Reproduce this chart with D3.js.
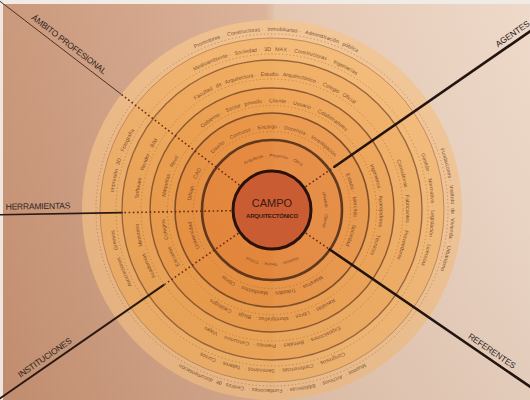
<!DOCTYPE html>
<html>
<head>
<meta charset="utf-8">
<script src="https://cdn.jsdelivr.net/npm/d3@7"></script>
<style>
  body { margin: 0; background: #d9ae93; }
  svg { display: block; }
</style>
</head>
<body>
<svg id="chart" width="530" height="400"></svg>
<script>
// --- data ---
const ejes = ["ÁMBITO PROFESIONAL", "AGENTES", "REFERENTES", "INSTITUCIONES", "HERRAMIENTAS"];
const angulosEje = [307.5, 55.3, 124.4, 235.3, 269]; // degrees, clockwise from 12 o'clock
const titulo = "CAMPO";
const subtitulo = "ARQUITECTÓNICO";

// one string per ring band, inner to outer
const textosSuperior = [
  "Arquitecto · Proyecto · Obra",
  "Diseño · Concurso · Encargo · Docencia · Investigación",
  "Gobierno · Sector privado · Cliente · Usuario · Colaboradores",
  "Facultad de Arquitectura · Estudio Arquitectónico · Colegio Oficial",
  "Medioambiente · Sociedad · 3D MAX · Constructoras · Ingenierías",
  "Promotores · Constructoras · Inmobiliarias · Administración pública"
];
const textosDerecha = [
  "Usuario · Cliente",
  "Estado · Mercado · Sociedad",
  "Ingenieros · Aparejadores · Técnicos",
  "Consultoras · Fabricantes · Proveedores",
  "Gestión · Normativa · Legislación · Licencias",
  "Fundaciones · Instituto de Vivienda · Urbanismo"
];
const textosInferior = [
  "Historia · Teoría · Crítica",
  "Maestros · Tratados · Manifiestos · Obras",
  "Revistas · Libros · Monografías · Blogs · Catálogos",
  "Exposiciones · Bienales · Premios · Concursos · Viajes",
  "Congresos · Conferencias · Seminarios · Talleres · Cursos",
  "Museos · Archivos · Bibliotecas · Fundaciones · Centros de documentación"
];
const textosIzqInf = ["", "Universidad", "Escuelas · Colegios", "Academias · Ministerio", "Asociaciones · Gremios", ""];
const textosIzqSup = ["", "Dibujo · CAD", "Maquetas · Revit", "Software · Render · BIM", "Impresión 3D · Fotografía", ""];

// --- layout ---
const width = 530, height = 400;
const cx = 272, cy = 210;
const svg = d3.select("#chart");

// ring index -> radius (center circle, then ring lines outward)
const radio = d3.scaleLinear().domain([0, 1, 2, 3, 4, 5, 6]).range([39, 70, 97, 122, 150, 172, 190]);
const rad = a => (a - 90) * Math.PI / 180;

const defs = svg.append("defs");

const bg = defs.append("linearGradient").attr("id", "bg");
bg.append("stop").attr("offset", 0).attr("stop-color", "#cd9d81");
bg.append("stop").attr("offset", 0.5).attr("stop-color", "#dab096");
bg.append("stop").attr("offset", 0.52).attr("stop-color", "#e2c2ab");
bg.append("stop").attr("offset", 1).attr("stop-color", "#ead3c2");

const luz = defs.append("linearGradient").attr("id", "luz");
luz.append("stop").attr("offset", 0).attr("stop-color", "#9a3c08").attr("stop-opacity", 0.1);
luz.append("stop").attr("offset", 0.5).attr("stop-color", "#9a3c08").attr("stop-opacity", 0.0);
luz.append("stop").attr("offset", 0.52).attr("stop-color", "#fff3e6").attr("stop-opacity", 0.04);
luz.append("stop").attr("offset", 1).attr("stop-color", "#fff3e6").attr("stop-opacity", 0.14);

const vert = defs.append("linearGradient").attr("id", "vert").attr("x2", 0).attr("y2", 1);
vert.append("stop").attr("offset", 0).attr("stop-color", "#ffffff").attr("stop-opacity", 0.05);
vert.append("stop").attr("offset", 1).attr("stop-color", "#5a2a10").attr("stop-opacity", 0.07);

svg.append("rect").attr("width", width).attr("height", height).attr("fill", "url(#bg)");

// disk bands, outer to inner
const colores = ["#e8883a", "#ec9442", "#efa04d", "#f1aa5a", "#f3b56c", "#f0c08c"];
d3.range(6, 0, -1).forEach(i => {
  svg.append("circle").attr("cx", cx).attr("cy", cy).attr("r", radio(i)).attr("fill", colores[i - 1]);
});

// lighting overlays
svg.append("rect").attr("width", width).attr("height", height).attr("fill", "url(#luz)");
svg.append("rect").attr("width", width).attr("height", height).attr("fill", "url(#vert)");
svg.append("rect").attr("width", width).attr("height", 4).attr("fill", "#f1ebe5");
svg.append("rect").attr("width", 3).attr("height", height).attr("fill", "#efe6df");

// dotted guide circles
d3.range(1, 6).forEach(i => {
  svg.append("circle").attr("cx", cx).attr("cy", cy)
    .attr("r", (radio(i) + radio(i + 1)) / 2 - 5)
    .attr("fill", "none").attr("stroke", "#a0501e").attr("stroke-opacity", 0.6)
    .attr("stroke-width", 0.8).attr("stroke-dasharray", "1.2,2.4");
});

// solid ring lines
const anchoAnillo = [0, 2.6, 1.6, 1.4, 1.3, 0.9];
const colorAnillo = ["", "#4a2818", "#6e3f24", "#7c4a2a", "#8a5532", "#b07a50"];
d3.range(1, 6).forEach(i => {
  svg.append("circle").attr("cx", cx).attr("cy", cy).attr("r", radio(i))
    .attr("fill", "none").attr("stroke", colorAnillo[i]).attr("stroke-width", anchoAnillo[i])
    .attr("stroke-opacity", 0.85);
});

// ring texts along arcs, one text element per word (dots stay with the word before)
const sectores = [
  { textos: textosSuperior, desde: 0, hasta: 1 },
  { textos: textosDerecha, desde: 1, hasta: 2 },
  { textos: textosInferior, desde: 2, hasta: 3 },
  { textos: textosIzqInf, desde: 3, hasta: 4 },
  { textos: textosIzqSup, desde: 4, hasta: 0 }
];
const gTextos = svg.append("g")
  .attr("font-family", "Liberation Sans, sans-serif")
  .attr("fill", "#683a22").attr("fill-opacity", 0.85);
sectores.forEach((s, si) => {
  let a0 = angulosEje[s.desde], a1 = angulosEje[s.hasta];
  if (a1 < a0) a1 += 360;
  s.textos.forEach((t, b) => {
    if (!t) return;
    const r = (radio(b) + radio(b + 1)) / 2;
    const pad = 3;
    const p = d3.path();
    p.arc(cx, cy, r, rad(a0 + pad), rad(a1 - pad), false);
    const id = `arco-${si}-${b}`;
    defs.append("path").attr("id", id).attr("d", p.toString());
    const largo = r * (a1 - a0 - 2 * pad) * Math.PI / 180;

    const fs = b === 0 ? 4.6 : 5.4;
    const palabras = t.replace(/ · /g, "\u00a0· ").split(" ");
    const nodos = palabras.map(d => gTextos.append("text").attr("font-size", fs).attr("dy", "0.35em"));
    const tps = nodos.map((n, k) => n.append("textPath").attr("href", `#${id}`).text(palabras[k]));
    const gap = fs * 0.75;
    let anchos = nodos.map(n => n.node().getComputedTextLength());
    let total = d3.sum(anchos) + gap * (palabras.length - 1);
    let k = 1;
    if (total > largo * 0.94) {
      k = largo * 0.94 / total;
      nodos.forEach(n => n.attr("font-size", fs * k));
      anchos = anchos.map(w => w * k);
      total *= k;
    }
    let pos = (largo - total) / 2;
    tps.forEach((tp, j) => {
      tp.attr("startOffset", pos);
      pos += anchos[j] + gap * k;
    });
  });
});

// radial axes: dotted inside, solid outside
const estiloEje = [
  { desde: 190, ancho: 1, color: "#4a3026" },
  { desde: 76, ancho: 2.6, color: "#24140f" },
  { desde: 70, ancho: 2.6, color: "#24140f" },
  { desde: 132, ancho: 2, color: "#2a1812" },
  { desde: 150, ancho: 1.6, color: "#2a1812" }
];
const punto = (a, r) => [cx + r * Math.cos(rad(a)), cy + r * Math.sin(rad(a))];
ejes.forEach((e, i) => {
  const a = angulosEje[i], st = estiloEje[i];
  const [x0, y0] = punto(a, radio(0) + 2), [x1, y1] = punto(a, st.desde);
  svg.append("line").attr("x1", x0).attr("y1", y0).attr("x2", x1).attr("y2", y1)
    .attr("stroke", "#6a2a10").attr("stroke-width", 1.6).attr("stroke-dasharray", "1.6,2.6");
  const [x2, y2] = punto(a, 420);
  svg.append("line").attr("x1", x1).attr("y1", y1).attr("x2", x2).attr("y2", y2)
    .attr("stroke", st.color).attr("stroke-width", st.ancho).attr("stroke-linecap", "round");
});

// axis labels along the lines
const distEtiqueta = [262, 298, 261, 271, 234];
ejes.forEach((e, i) => {
  const a = angulosEje[i];
  const [x, y] = punto(a, distEtiqueta[i]);
  let rot = Math.atan2(y - cy, x - cx) * 180 / Math.PI;
  if (rot > 90) rot -= 180;
  if (rot < -90) rot += 180;
  const r = rot * Math.PI / 180;
  const off = 5;
  const tx = x + off * Math.sin(r), ty = y - off * Math.cos(r);
  svg.append("text")
    .attr("transform", `translate(${tx},${ty}) rotate(${rot})`)
    .attr("text-anchor", "middle")
    .attr("font-family", "Liberation Sans, sans-serif")
    .attr("font-size", 8.5).attr("letter-spacing", -0.2)
    .attr("fill", "#2f2420").text(e);
});

// center circle
svg.append("circle").attr("cx", cx).attr("cy", cy).attr("r", radio(0))
  .attr("fill", "#c95c33").attr("stroke", "#2a120a").attr("stroke-width", 3);
svg.append("text").attr("x", cx).attr("y", cy - 3).attr("text-anchor", "middle")
  .attr("font-family", "Liberation Sans, sans-serif").attr("font-size", 11)
  .attr("fill", "#3a1a12").text(titulo);
svg.append("text").attr("x", cx).attr("y", cy + 8).attr("text-anchor", "middle")
  .attr("font-family", "Liberation Sans, sans-serif").attr("font-size", 6).attr("font-weight", "bold")
  .attr("letter-spacing", -0.2).attr("fill", "#3a1a12").text(subtitulo);
</script>
</body>
</html>
